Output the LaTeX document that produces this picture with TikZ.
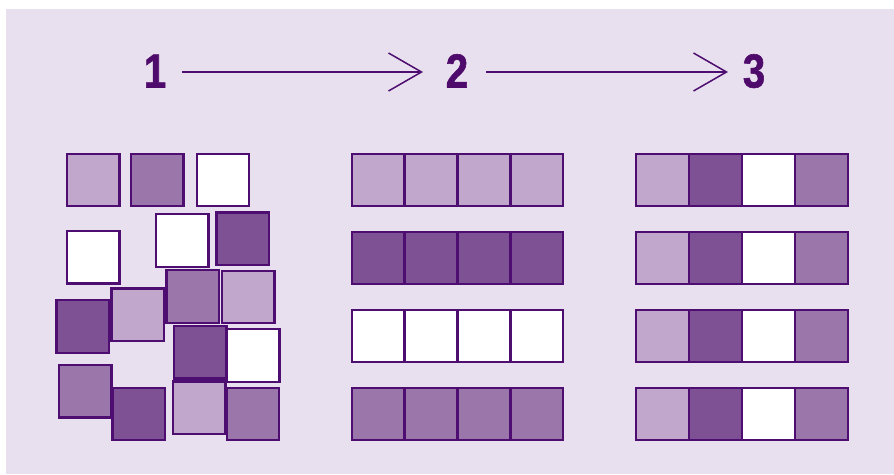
\documentclass[tikz,border=0pt]{standalone}
\usepackage{fontspec}
\newfontfamily\numfont[FakeStretch=0.84,FakeBold=1.2]{Liberation Sans}
\usetikzlibrary{arrows.meta}
\definecolor{bgc}{HTML}{E8E0EE}
\definecolor{cL}{HTML}{C0A7CB}
\definecolor{cM}{HTML}{9A76AB}
\definecolor{cD}{HTML}{7D5193}
\definecolor{stk}{HTML}{4E0D70}
\definecolor{numc}{HTML}{4F0B6B}
\tikzset{
  sq/.style={draw=stk, line width=2.3pt, minimum size=52.5pt, inner sep=0pt, outer sep=0pt},
  num/.style={text=numc, font=\numfont\bfseries\fontsize{47.8}{50}\selectfont, inner sep=0pt, anchor=base},
  arr/.style={draw=stk, line width=1.5pt, -{Straight Barb[length=33pt,width=38pt]}}
}
\begin{document}
\begin{tikzpicture}[x=1pt,y=-1pt]
\useasboundingbox (0,0) rectangle (894,474);
\fill[white] (0,0) rectangle (894,474);
\fill[bgc] (6,9) rectangle (894,474);
% numbers
\node[num] (n1) at (155,87.5) {1};
\node[num] (n2) at (457,87.5) {2};
\node[num] (n3) at (754,87.5) {3};
\draw[arr] ([xshift=27pt,yshift=15.5pt]n1.base) -- ([xshift=-34pt,yshift=15.5pt]n2.base);
\draw[arr] ([xshift=29pt,yshift=15.5pt]n2.base) -- ([xshift=-26pt,yshift=15.5pt]n3.base);
% column 1 (scattered)
\node[sq, fill=cL] (a1) at (93.2,180) {};
\node[sq, fill=cM] (a2) at (157.3,180) {};
\node[sq, fill=white] (a3) at (223,180) {};
\node[sq, fill=white] (a4) at (93.3,257.3) {};
\node[sq, fill=white] (a5) at (182.3,240.5) {};
\node[sq, fill=cD] (a6) at (242.7,238.7) {};
\node[sq, fill=cL] (a7) at (248.2,297) {};
\node[sq, fill=cM] (a8) at (192.7,296.5) {};
\node[sq, fill=cL] (a9) at (137.8,314.8) {};
\node[sq, fill=cD] (a10) at (82.7,326.5) {};
\node[sq, fill=cD] (a11) at (200.2,352.2) {};
\node[sq, fill=white] (a12) at (253.2,355.5) {};
\node[sq, fill=cM] (a13) at (85.3,391.2) {};
\node[sq, fill=cD] (a14) at (138.8,414) {};
\node[sq, fill=cL] (a15) at (199.3,407.7) {};
\node[sq, fill=cM] (a16) at (253,414) {};
% column 2 (sorted rows)
\foreach \r/\y/\c in {1/180/cL, 2/258/cD, 3/336/white, 4/414/cM}{
  \foreach \k/\x in {1/378, 2/431, 3/484, 4/537}{
    \node[sq, fill=\c] (b\r\k) at (\x,\y) {};
  }
}
% column 3 (mixed rows)
\foreach \r/\y in {1/180, 2/258, 3/336, 4/414}{
  \foreach \k/\x/\c in {1/662.5/cL, 2/715.5/cD, 3/768.5/white, 4/821.5/cM}{
    \node[sq, fill=\c] (c\r\k) at (\x,\y) {};
  }
}
\end{tikzpicture}
\end{document}
